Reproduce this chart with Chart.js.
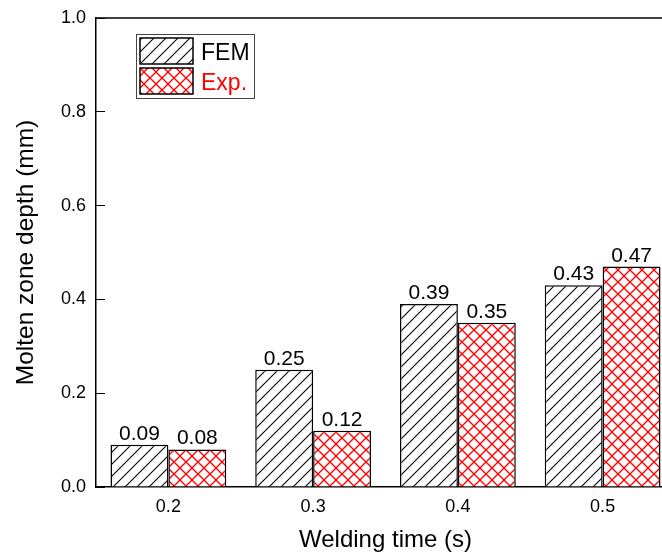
<!DOCTYPE html>
<html>
<head>
<meta charset="utf-8">
<script src="https://cdn.jsdelivr.net/npm/chart.js@4"></script>
<style>
  html, body { margin: 0; padding: 0; background: #fff; overflow: hidden; }
  #wrap { width: 662px; height: 558px; overflow: hidden; }
  canvas { display: block; }
</style>
</head>
<body>
<div id="wrap"><canvas id="chart_depth" width="680" height="558"></canvas></div>
<script>
// data
const weldTimes = ["0.2", "0.3", "0.4", "0.5"];
const femDepth = [0.09, 0.25, 0.39, 0.43];
const expDepth = [0.08, 0.12, 0.35, 0.47];
const yTicks = [0, 0.2, 0.4, 0.6, 0.8, 1.0];

const FONT = "'Liberation Sans', Arial, sans-serif";

function makeHatch(color, cross) {
    // 12px tile with 45 degree lines
    const c = document.createElement('canvas');
    c.width = 12; c.height = 12;
    const g = c.getContext('2d');
    g.fillStyle = '#fff';
    g.fillRect(0, 0, 12, 12);
    g.strokeStyle = color;
    g.lineWidth = cross ? 1.3 : 1.1;
    for (let k = -12; k <= 12; k += 12) {
        g.beginPath();
        g.moveTo(k - 1, 13); g.lineTo(k + 13, -1);
        g.stroke();
        if (cross) {
            g.beginPath();
            g.moveTo(k - 1, -1); g.lineTo(k + 13, 13);
            g.stroke();
        }
    }
    return g.createPattern(c, 'repeat');
}

const femFill = makeHatch('#000', false);
const expFill = makeHatch('#ff0000', true);
const legendTextColors = ['#000000', '#ff0000'];

const valueLabels = {
    id: 'valueLabels',
    afterDatasetsDraw(chart) {
        const ctx = chart.ctx;
        ctx.save();
        ctx.font = '21px ' + FONT;
        ctx.fillStyle = '#000';
        ctx.textAlign = 'center';
        ctx.textBaseline = 'alphabetic';
        chart.data.datasets.forEach((ds, i) => {
            chart.getDatasetMeta(i).data.forEach((bar, j) => {
                ctx.fillText(ds.data[j].toFixed(2), bar.x, bar.y - 5);
            });
        });
        ctx.restore();
    }
};

const frameAndLegend = {
    id: 'frameAndLegend',
    afterDraw(chart) {
        const ctx = chart.ctx;
        const a = chart.chartArea;
        ctx.save();
        // top / right frame
        ctx.strokeStyle = '#000';
        ctx.lineWidth = 1.5;
        ctx.beginPath();
        ctx.moveTo(a.left, a.top);
        ctx.lineTo(a.right, a.top);
        ctx.lineTo(a.right, a.bottom);
        ctx.stroke();

        // legend box
        ctx.lineWidth = 1;
        ctx.strokeStyle = '#444';
        ctx.strokeRect(136.5, 34.5, 118, 64);
        ctx.font = '23px ' + FONT;
        ctx.textAlign = 'left';
        ctx.textBaseline = 'alphabetic';
        chart.data.datasets.forEach((ds, i) => {
            const y = 38 + i * 30;
            ctx.fillStyle = ds.backgroundColor;
            ctx.fillRect(140, y, 53, 26);
            ctx.lineWidth = 1.5;
            ctx.strokeStyle = '#000';
            ctx.strokeRect(140, y, 53, 26);
            ctx.fillStyle = legendTextColors[i];
            ctx.fillText(ds.label, 201, y + 22);
        });
        ctx.restore();
    }
};

new Chart('chart_depth', {
    type: 'bar',
    data: {
        labels: weldTimes,
        datasets: [{
            label: 'FEM',
            data: femDepth,
            backgroundColor: femFill,
            borderColor: '#000',
            borderWidth: 1.5
        }, {
            label: 'Exp.',
            data: expDepth,
            backgroundColor: expFill,
            borderColor: '#000',
            borderWidth: 1.5
        }]
    },
    options: {
        responsive: false,
        animation: false,
        devicePixelRatio: 1,
        layout: { padding: { top: 18, right: 5, left: 0, bottom: 0 } },
        datasets: { bar: { categoryPercentage: 0.8, barPercentage: 1.0 } },
        plugins: { legend: { display: false }, tooltip: { enabled: false } },
        scales: {
            x: {
                grid: { display: false, drawTicks: false },
                border: { display: true, color: '#000', width: 1.5 },
                ticks: { color: '#000', font: { family: FONT, size: 18 }, padding: 9 },
                title: {
                    display: true, text: 'Welding time (s)', color: '#000',
                    font: { family: FONT, size: 24 }, padding: { top: 0, bottom: 3 }
                },
                afterFit(scale) {
                    scale.height = 71;
                    scale.paddingLeft = 0; scale.paddingRight = 0;
                }
            },
            y: {
                min: 0, max: 1,
                afterBuildTicks(scale) { scale.ticks = yTicks.map(v => ({ value: v })); },
                grid: { drawOnChartArea: false, drawTicks: true, tickLength: -9, color: '#000', lineWidth: 1 },
                border: { display: true, color: '#000', width: 1.5 },
                ticks: {
                    color: '#000', font: { family: FONT, size: 18 }, padding: 19,
                    callback: v => Number(v).toFixed(1)
                },
                title: {
                    display: true, text: 'Molten zone depth (mm)', color: '#000',
                    font: { family: FONT, size: 24.5 }, padding: { top: 12, bottom: 0 }
                },
                afterFit(scale) {
                    scale.width = 96;
                    scale.paddingTop = 0; scale.paddingBottom = 0;
                }
            }
        }
    },
    plugins: [valueLabels, frameAndLegend]
});
</script>
</body>
</html>
